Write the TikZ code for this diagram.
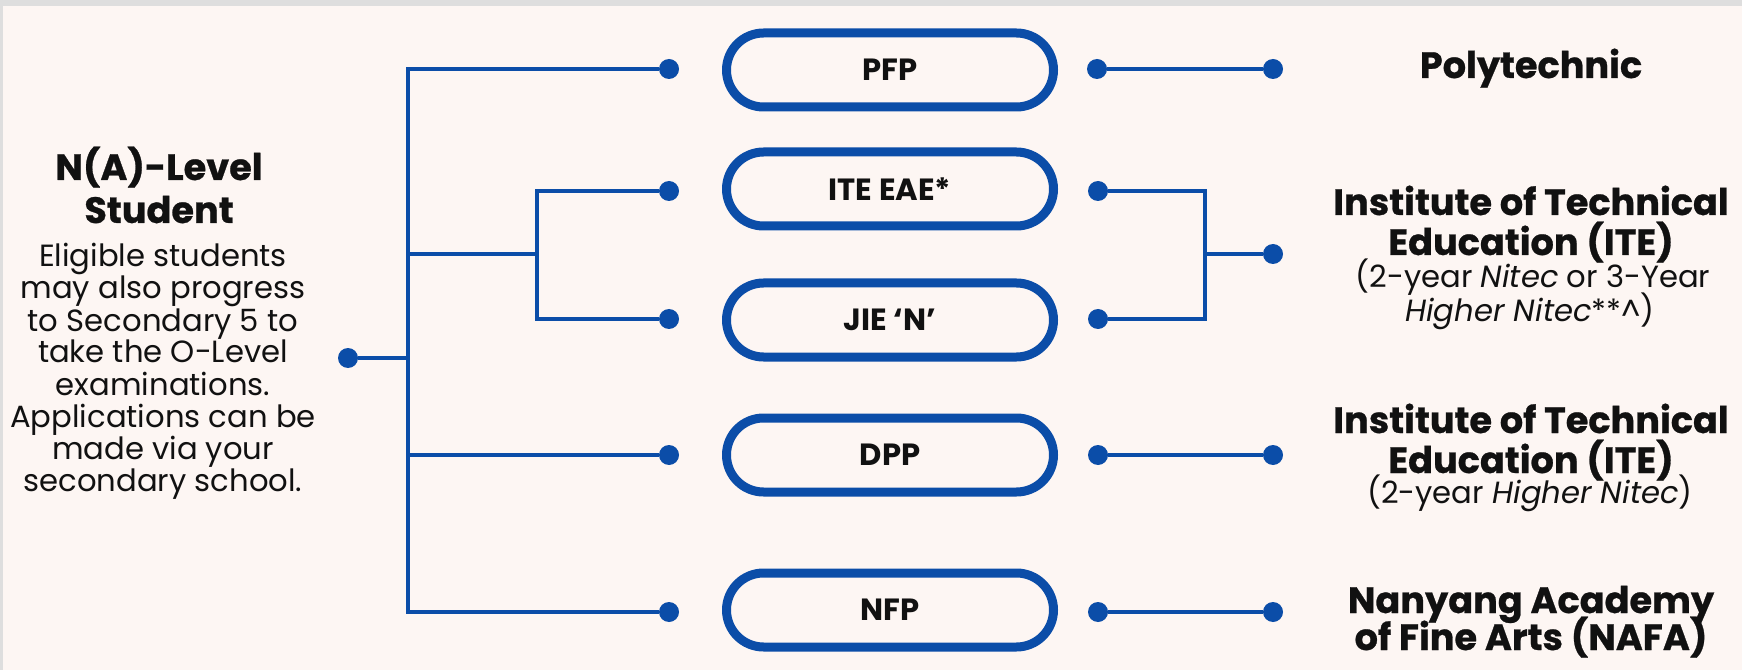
\documentclass[tikz,border=0pt]{standalone}
\usepackage{fontspec}
\setmainfont{Poppins}
\newfontfamily\heavy{Poppins}[BoldFeatures={FakeBold=0.7}]
\definecolor{nblue}{HTML}{0B4DA8}
\definecolor{bgpanel}{HTML}{FDF6F3}
\definecolor{bgedge}{HTML}{DEDEDE}
\definecolor{ink}{HTML}{111111}
\begin{document}
\begin{tikzpicture}[x=0.75pt,y=-0.75pt,
  conn/.style={draw=nblue,line width=2.6pt},
  dot/.style={circle,fill=nblue,inner sep=0pt,minimum size=15pt},
  pill/.style={draw=nblue,line width=6.75pt,rounded corners=27.75pt,
    minimum width=245.25pt,minimum height=55.5pt,inner sep=0pt,
    font=\bfseries\fontsize{23}{26}\selectfont,text=ink},
  ttl/.style={font=\heavy\bfseries\fontsize{27.5}{30}\selectfont,anchor=base,inner sep=0pt,text=ink},
  sub/.style={font=\fontsize{23}{26}\selectfont,anchor=base,inner sep=0pt,text=ink},
  body/.style={font=\fontsize{23}{26}\selectfont,anchor=base,inner sep=0pt,text=ink}]
\useasboundingbox (0,0) rectangle (1742,670);
\fill[bgedge] (0,0) rectangle (1742,670);
\fill[bgpanel] (3,6) rectangle (1742,670);

% left text
\node[ttl] (t1) at (159,180) {N(A)-Level};
\node[ttl] (t2) at (159,223) {Student};
\node[body] (b1) at (163,267) {Eligible students};
\node[body] (b2) at (163,299) {may also progress};
\node[body] (b3) at (163,331) {to Secondary 5 to};
\node[body] (b4) at (163,363) {take the O-Level};
\node[body] (b5) at (163,395) {examinations.};
\node[body] (b6) at (163,427) {Applications can be};
\node[body] (b7) at (163,459) {made via your};
\node[body] (b8) at (163,491) {secondary school.};

% dots and boxes
\node[dot] (S) at (348,358) {};
\node[dot] (L1) at (669,69) {};
\node[dot] (L2) at (669,191) {};
\node[dot] (L3) at (669,319) {};
\node[dot] (L4) at (669,455) {};
\node[dot] (L5) at (669,612) {};

\node[pill] (B1) at (890,70) {PFP};
\node[pill] (B2) at (890,189) {ITE EAE*};
\node[pill] (B3) at (890,320) {JIE ‘N’};
\node[pill] (B4) at (890,455) {DPP};
\node[pill] (B5) at (890,610) {NFP};

\node[dot] (R1) at (1097,69) {};
\node[dot] (R2) at (1098,191) {};
\node[dot] (R3) at (1098,319) {};
\node[dot] (R4) at (1098,455) {};
\node[dot] (R5) at (1098,612) {};

\node[dot] (F1) at (1273,69) {};
\node[dot] (F2) at (1273,254) {};
\node[dot] (F3) at (1273,455) {};
\node[dot] (F4) at (1273,612) {};

% left tree
\coordinate (T1) at (408,69);
\coordinate (T5) at (408,612);
\coordinate (TS) at (408,358);
\coordinate (T4) at (408,455);
\coordinate (J) at (408,254);
\coordinate (K) at (537,254);
\coordinate (K1) at (537,191);
\coordinate (K2) at (537,319);
\draw[conn] (L1) -- (T1) -- (T5) -- (L5);
\draw[conn] (S) -- (TS);
\draw[conn] (T4) -- (L4);
\draw[conn] (J) -- (K);
\draw[conn] (L2) -- (K1) -- (K2) -- (L3);

% right tree
\coordinate (M1) at (1205,191);
\coordinate (M2) at (1205,319);
\coordinate (M) at (1205,254);
\draw[conn] (R1) -- (F1);
\draw[conn] (R2) -- (M1) -- (M2) -- (R3);
\draw[conn] (M) -- (F2);
\draw[conn] (R4) -- (F3);
\draw[conn] (R5) -- (F4);

% right text
\node[ttl] (p1) at (1531,78) {Polytechnic};
\node[ttl] (i1) at (1531,215) {Institute of Technical};
\node[ttl] (i2) at (1531,255) {Education (ITE)};
\node[sub] (i3) at (1533,288) {(2-year \textit{Nitec} or 3-Year};
\node[sub] (i4) at (1530,321) {\textit{Higher Nitec}**\textasciicircum)};
\node[ttl] (j1) at (1531,433) {Institute of Technical};
\node[ttl] (j2) at (1531,473) {Education (ITE)};
\node[sub] (j3) at (1530,503) {(2-year \textit{Higher Nitec})};
\node[ttl] (n1) at (1531,613) {Nanyang Academy};
\node[ttl] (n2) at (1531,650) {of Fine Arts (NAFA)};
\end{tikzpicture}
\end{document}
